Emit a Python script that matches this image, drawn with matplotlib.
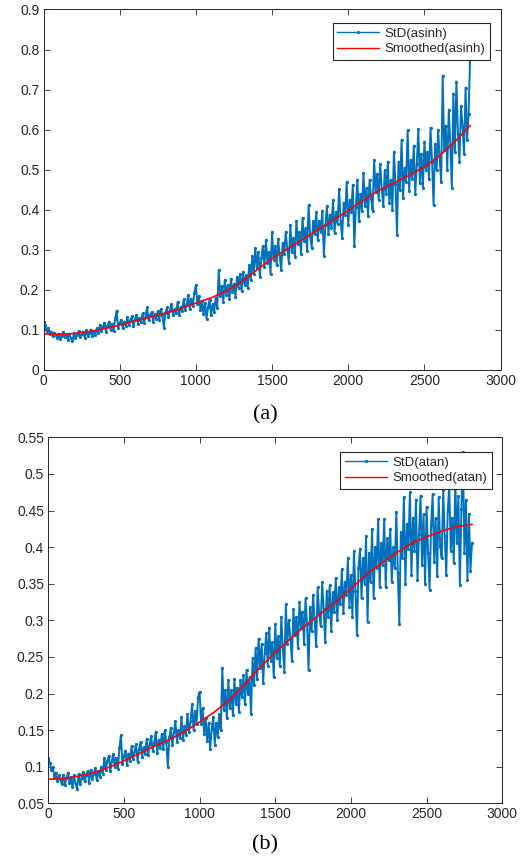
import numpy as np
import matplotlib
matplotlib.use("Agg")
import matplotlib.pyplot as plt

plt.rcParams["font.family"] = ["Liberation Sans", "DejaVu Sans"]

STEP_RAW = 10
STEP_SMOOTH = 100

# panel (a): StD(asinh), one reading every 10 samples (rows of 100 samples)
std_asinh = [
    0.120, 0.112, 0.098, 0.105, 0.090, 0.096, 0.084, 0.093, 0.088, 0.080,
    0.091, 0.078, 0.086, 0.095, 0.082, 0.088, 0.074, 0.090, 0.079, 0.072,
    0.093, 0.080, 0.087, 0.097, 0.083, 0.090, 0.096, 0.081, 0.099, 0.086,
    0.092, 0.101, 0.085, 0.096, 0.088, 0.104, 0.092, 0.112, 0.097, 0.108,
    0.118, 0.096, 0.110, 0.121, 0.101, 0.115, 0.098, 0.128, 0.148, 0.106,
    0.117, 0.125, 0.104, 0.121, 0.110, 0.131, 0.112, 0.124, 0.134, 0.109,
    0.127, 0.138, 0.116, 0.130, 0.121, 0.141, 0.118, 0.134, 0.156, 0.124,
    0.136, 0.145, 0.121, 0.140, 0.128, 0.147, 0.126, 0.152, 0.137, 0.106,
    0.142, 0.156, 0.131, 0.149, 0.165, 0.136, 0.152, 0.141, 0.170, 0.138,
    0.158, 0.146, 0.176, 0.150, 0.165, 0.187, 0.152, 0.178, 0.160, 0.192,
    0.212, 0.165, 0.185, 0.150, 0.172, 0.140, 0.168, 0.128, 0.158, 0.175,
    0.136, 0.165, 0.145, 0.180, 0.155, 0.250, 0.185, 0.210, 0.170, 0.225,
    0.188, 0.212, 0.176, 0.228, 0.195, 0.215, 0.182, 0.232, 0.205, 0.240,
    0.198, 0.245, 0.212, 0.236, 0.205, 0.262, 0.225, 0.285, 0.240, 0.305,
    0.255, 0.295, 0.232, 0.280, 0.310, 0.258, 0.325, 0.268, 0.295, 0.240,
    0.345, 0.275, 0.310, 0.262, 0.328, 0.285, 0.250, 0.318, 0.290, 0.345,
    0.302, 0.268, 0.362, 0.295, 0.330, 0.282, 0.372, 0.315, 0.345, 0.290,
    0.380, 0.322, 0.355, 0.298, 0.412, 0.335, 0.305, 0.372, 0.340, 0.395,
    0.325, 0.372, 0.345, 0.398, 0.285, 0.362, 0.410, 0.340, 0.388, 0.355,
    0.425, 0.342, 0.395, 0.365, 0.452, 0.372, 0.330, 0.418, 0.388, 0.470,
    0.362, 0.425, 0.395, 0.462, 0.310, 0.408, 0.475, 0.372, 0.440, 0.398,
    0.492, 0.410, 0.455, 0.385, 0.475, 0.430, 0.398, 0.525, 0.445, 0.490,
    0.425, 0.515, 0.452, 0.410, 0.498, 0.440, 0.520, 0.418, 0.475, 0.400,
    0.545, 0.465, 0.338, 0.520, 0.450, 0.575, 0.430, 0.505, 0.470, 0.598,
    0.448, 0.525, 0.478, 0.560, 0.440, 0.515, 0.602, 0.468, 0.540, 0.455,
    0.570, 0.498, 0.545, 0.478, 0.605, 0.520, 0.412, 0.565, 0.498, 0.600,
    0.528, 0.470, 0.735, 0.548, 0.610, 0.500, 0.650, 0.560, 0.455, 0.690,
    0.545, 0.720, 0.590, 0.520, 0.660, 0.610, 0.540, 0.705, 0.575, 0.640,
    0.780,
]
smooth_asinh = [
    0.090, 0.089, 0.091, 0.096, 0.103, 0.112, 0.122, 0.132, 0.142, 0.153,
    0.167, 0.180, 0.197, 0.220, 0.250, 0.278, 0.302, 0.326, 0.350, 0.374,
    0.398, 0.424, 0.448, 0.467, 0.486, 0.507, 0.535, 0.570, 0.610,
]

# panel (b): StD(atan)
std_atan = [
    0.112, 0.105, 0.095, 0.100, 0.085, 0.092, 0.080, 0.088, 0.083, 0.076,
    0.089, 0.075, 0.084, 0.092, 0.078, 0.086, 0.072, 0.088, 0.076, 0.070,
    0.090, 0.076, 0.085, 0.093, 0.080, 0.088, 0.094, 0.078, 0.096, 0.083,
    0.090, 0.098, 0.082, 0.094, 0.086, 0.100, 0.090, 0.112, 0.095, 0.108,
    0.115, 0.094, 0.108, 0.118, 0.099, 0.112, 0.097, 0.125, 0.143, 0.104,
    0.114, 0.122, 0.102, 0.118, 0.108, 0.128, 0.110, 0.121, 0.131, 0.107,
    0.124, 0.134, 0.113, 0.127, 0.118, 0.138, 0.116, 0.131, 0.142, 0.121,
    0.133, 0.148, 0.119, 0.137, 0.125, 0.145, 0.124, 0.150, 0.134, 0.100,
    0.140, 0.153, 0.129, 0.147, 0.162, 0.134, 0.150, 0.139, 0.168, 0.136,
    0.155, 0.144, 0.172, 0.148, 0.162, 0.185, 0.150, 0.176, 0.158, 0.195,
    0.202, 0.158, 0.180, 0.145, 0.166, 0.135, 0.160, 0.124, 0.152, 0.168,
    0.130, 0.160, 0.140, 0.172, 0.150, 0.235, 0.178, 0.205, 0.166, 0.218,
    0.180, 0.205, 0.170, 0.220, 0.186, 0.208, 0.175, 0.218, 0.195, 0.225,
    0.185, 0.232, 0.200, 0.222, 0.172, 0.248, 0.212, 0.262, 0.220, 0.275,
    0.235, 0.268, 0.215, 0.255, 0.282, 0.238, 0.290, 0.245, 0.270, 0.222,
    0.295, 0.248, 0.278, 0.238, 0.305, 0.262, 0.230, 0.322, 0.268, 0.300,
    0.275, 0.245, 0.315, 0.280, 0.305, 0.262, 0.325, 0.290, 0.312, 0.268,
    0.330, 0.295, 0.232, 0.318, 0.285, 0.335, 0.300, 0.265, 0.345, 0.310,
    0.292, 0.352, 0.315, 0.270, 0.340, 0.305, 0.348, 0.285, 0.338, 0.312,
    0.358, 0.300, 0.345, 0.322, 0.370, 0.310, 0.352, 0.335, 0.385, 0.318,
    0.362, 0.305, 0.395, 0.340, 0.280, 0.372, 0.398, 0.330, 0.385, 0.350,
    0.415, 0.298, 0.392, 0.352, 0.425, 0.330, 0.400, 0.372, 0.438, 0.345,
    0.405, 0.375, 0.438, 0.345, 0.412, 0.382, 0.425, 0.352, 0.400, 0.372,
    0.448, 0.365, 0.295, 0.420, 0.385, 0.468, 0.350, 0.432, 0.398, 0.475,
    0.362, 0.440, 0.395, 0.465, 0.355, 0.418, 0.470, 0.375, 0.445, 0.350,
    0.455, 0.392, 0.342, 0.430, 0.472, 0.380, 0.440, 0.360, 0.468, 0.402,
    0.385, 0.478, 0.415, 0.362, 0.450, 0.485, 0.395, 0.440, 0.378, 0.492,
    0.405, 0.470, 0.348, 0.452, 0.530, 0.392, 0.465, 0.355, 0.445, 0.368,
    0.405,
]
smooth_atan = [
    0.083, 0.084, 0.087, 0.092, 0.099, 0.108, 0.118, 0.128, 0.137, 0.148,
    0.161, 0.175, 0.192, 0.213, 0.236, 0.256, 0.275, 0.293, 0.309, 0.325,
    0.343, 0.362, 0.378, 0.392, 0.405, 0.414, 0.422, 0.428, 0.431,
]

BLUE = "#0072BD"
RED = "#FF0000"
TXT = "#262626"


def draw_panel(ax, raw, smooth, name, ylim, yticks, ylabels, legend_anchor):
    xr = np.arange(len(raw)) * STEP_RAW
    xs = np.arange(len(smooth)) * STEP_SMOOTH
    ax.plot(xr, raw, color=BLUE, lw=1.4, marker=".", ms=2.6, label=f"StD({name})")
    ax.plot(xs, smooth, color=RED, lw=1.2, label=f"Smoothed({name})")
    ax.set_xlim(0, 3000)
    ax.set_ylim(*ylim)
    ax.set_xticks(range(0, 3001, 500))
    ax.set_yticks(yticks)
    ax.set_yticklabels(ylabels)
    ax.tick_params(direction="in", top=True, right=True, length=4, width=0.6,
                   colors=TXT, labelsize=10, pad=3)
    for sp in ax.spines.values():
        sp.set_color(TXT)
        sp.set_linewidth(0.7)
    leg = ax.legend(loc="upper right", bbox_to_anchor=legend_anchor, borderaxespad=0,
                    fancybox=False, framealpha=1, edgecolor=TXT, fontsize=9.5,
                    handlelength=3.2, handletextpad=0.4, numpoints=1,
                    borderpad=0.35, labelspacing=0.25)
    leg.get_frame().set_linewidth(0.8)
    for line in leg.get_lines():
        line.set_linewidth(1.0)
    for t in leg.get_texts():
        t.set_color(TXT)


fig = plt.figure(figsize=(5.26, 8.61), dpi=100)
ax1 = fig.add_axes([0.0827, 0.5703, 0.869, 0.4187])
ax2 = fig.add_axes([0.0918, 0.0670, 0.863, 0.4251])

draw_panel(ax1, std_asinh, smooth_asinh, "asinh", (0, 0.9),
           np.arange(0, 0.91, 0.1), ["0", "0.1", "0.2", "0.3", "0.4", "0.5", "0.6", "0.7", "0.8", "0.9"],
           (0.977, 0.963))
draw_panel(ax2, std_atan, smooth_atan, "atan", (0.05, 0.55),
           np.arange(0.05, 0.551, 0.05),
           ["0.05", "0.1", "0.15", "0.2", "0.25", "0.3", "0.35", "0.4", "0.45", "0.5", "0.55"],
           (0.977, 0.960))

fig.text(265 / 526, 1 - 415 / 861, "(a)", ha="center", va="center",
         family="Liberation Serif", fontsize=16, color="black")
fig.text(265 / 526, 1 - 845 / 861, "(b)", ha="center", va="center",
         family="Liberation Serif", fontsize=16, color="black")

fig.savefig("out.png", dpi=100)
